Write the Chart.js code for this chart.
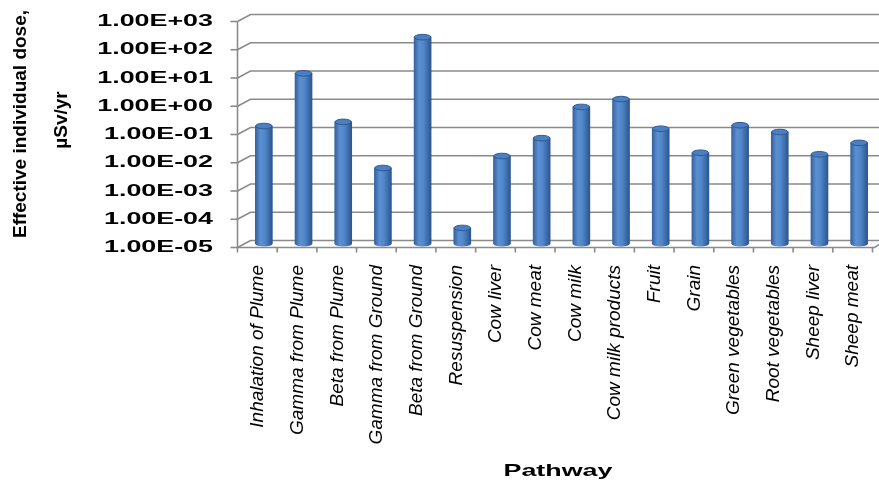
<!DOCTYPE html>
<html>
<head>
<meta charset="utf-8">
<script src="https://cdn.jsdelivr.net/npm/chart.js@4/dist/chart.umd.min.js"></script>
<style>
  html, body { margin: 0; padding: 0; background: #fff; }
  canvas { display: block; }
</style>
</head>
<body>
<canvas id="doseChart" width="879" height="483"></canvas>
<script>
// pathways and doses (µSv/yr)
const pathways = [
  'Inhalation of Plume', 'Gamma from Plume', 'Beta from Plume', 'Gamma from Ground',
  'Beta from Ground', 'Resuspension', 'Cow liver', 'Cow meat', 'Cow milk',
  'Cow milk products', 'Fruit', 'Grain', 'Green vegetables', 'Root vegetables',
  'Sheep liver', 'Sheep meat'
];
const doses = [
  0.15, 11, 0.21, 0.0049, 210, 0.000037, 0.013, 0.056, 0.71,
  1.35, 0.12, 0.017, 0.16, 0.092, 0.015, 0.038
];
const yTickValues = [1e-5, 1e-4, 1e-3, 1e-2, 1e-1, 1e0, 1e1, 1e2, 1e3];
const yTickLabels = ['1.00E-05', '1.00E-04', '1.00E-03', '1.00E-02', '1.00E-01',
                     '1.00E+00', '1.00E+01', '1.00E+02', '1.00E+03'];
const yTitle = ['Effective individual dose,', 'µSv/yr'];
const xTitle = 'Pathway';

// 3d depth offset: front plane is (-DX, +DY) from the chart area, back wall (+DX, -DY)
const DX = 6.5, DY = 3.5;
const GRID = '#8a8a8a';
const BAR_W = 17;
const FONT = '"Liberation Sans", Arial, sans-serif';

const barGradient = (ctx) => {
  const chart = ctx.chart;
  const xs = chart.scales && chart.scales.x;
  if (!xs || ctx.dataIndex === undefined) return '#4a7ebf';
  const x = xs.getPixelForValue(ctx.dataIndex);
  if (!isFinite(x)) return '#4a7ebf';
  const g = chart.ctx.createLinearGradient(x - BAR_W / 2, 0, x + BAR_W / 2, 0);
  g.addColorStop(0, '#35629e');
  g.addColorStop(0.3, '#5b8fd1');
  g.addColorStop(0.55, '#5188cb');
  g.addColorStop(1, '#2c568e');
  return g;
};

const frame3d = {
  id: 'frame3d',
  beforeDatasetsDraw(chart) {
    const { ctx, chartArea: a, scales: { y } } = chart;
    ctx.save();
    ctx.strokeStyle = GRID;
    ctx.lineWidth = 1.6;
    yTickValues.forEach(v => {
      const py = y.getPixelForValue(v);
      ctx.beginPath();
      ctx.moveTo(a.left - DX, py + DY);
      ctx.lineTo(a.left + DX, py - DY);
      ctx.lineTo(chart.width, py - DY);
      ctx.stroke();
    });
    ctx.restore();
  },
  afterDatasetsDraw(chart) {
    const { ctx, chartArea: a, scales: { y } } = chart;
    const meta = chart.getDatasetMeta(0);

    // cylinder caps
    meta.data.forEach((bar, i) => {
      const bx = bar.x, top = bar.y, base = bar.base;
      ctx.save();
      ctx.fillStyle = barGradient({ chart, dataIndex: i });
      ctx.beginPath();
      ctx.ellipse(bx, base, BAR_W / 2, 2.5, 0, 0, Math.PI);
      ctx.fill();
      ctx.beginPath();
      ctx.ellipse(bx, top, BAR_W / 2 - 0.3, 2.8, 0, 0, Math.PI * 2);
      ctx.fillStyle = '#4b7fc0';
      ctx.fill();
      ctx.lineWidth = 1;
      ctx.strokeStyle = '#2d5a93';
      ctx.stroke();
      ctx.restore();
    });

    // front axes
    ctx.save();
    ctx.strokeStyle = GRID;
    ctx.lineWidth = 1.6;
    const fx = a.left - DX;
    const top = y.getPixelForValue(1e3) + DY;
    const bottom = y.getPixelForValue(1e-5) + DY;
    ctx.beginPath();
    ctx.moveTo(fx, top);
    ctx.lineTo(fx, bottom);
    ctx.lineTo(a.right - DX + 2, bottom);
    ctx.lineTo(a.right + DX, bottom - 2 * DY);
    ctx.stroke();
    yTickValues.forEach(v => {
      const py = y.getPixelForValue(v) + DY;
      ctx.beginPath();
      ctx.moveTo(fx - 7, py);
      ctx.lineTo(fx, py);
      ctx.stroke();
    });
    const slot = (a.right - a.left) / pathways.length;
    for (let i = 0; i <= pathways.length; i++) {
      const px = fx + i * slot;
      ctx.beginPath();
      ctx.moveTo(px, bottom);
      ctx.lineTo(px, bottom + 5);
      ctx.stroke();
    }
    ctx.restore();
  },
  afterDraw(chart) {
    const { ctx, scales: { y } } = chart;
    ctx.save();
    ctx.fillStyle = '#000';
    ctx.font = 'bold 17px ' + FONT;
    ctx.textAlign = 'right';
    ctx.textBaseline = 'middle';
    // the source figure is stretched sideways, so are its flat labels
    yTickValues.forEach((v, i) => {
      ctx.save();
      ctx.translate(213, y.getPixelForValue(v) + DY);
      ctx.scale(1.58, 1);
      ctx.fillText(yTickLabels[i], 0, 0);
      ctx.restore();
    });
    ctx.save();
    ctx.textAlign = 'center';
    ctx.translate(558, 471);
    ctx.scale(1.58, 1);
    ctx.fillText(xTitle, 0, 0);
    ctx.restore();

    // rotated y title, two lines
    ctx.font = 'bold 19px ' + FONT;
    ctx.textAlign = 'center';
    [[21, 124], [62, 120]].forEach(([tx, ty], i) => {
      ctx.save();
      ctx.translate(tx, ty);
      ctx.rotate(-Math.PI / 2);
      ctx.fillText(yTitle[i], 0, 0);
      ctx.restore();
    });
    ctx.restore();
  }
};

new Chart(document.getElementById('doseChart'), {
  type: 'bar',
  data: {
    labels: pathways,
    datasets: [{
      data: doses,
      backgroundColor: barGradient,
      borderWidth: 0,
      barThickness: BAR_W
    }]
  },
  options: {
    responsive: false,
    animation: false,
    layout: { padding: { top: 18, right: 0, left: 0, bottom: 0 } },
    plugins: {
      legend: { display: false },
      tooltip: { enabled: false }
    },
    scales: {
      x: {
        grid: { display: false, drawTicks: false },
        border: { display: false },
        ticks: {
          autoSkip: false,
          minRotation: 90,
          maxRotation: 90,
          padding: 21,
          labelOffset: -6,
          color: '#000',
          font: { family: FONT, size: 19, style: 'italic' }
        },
        afterFit: (s) => {
          s.height = 239;
          s.paddingLeft = 0;
          s.paddingRight = 0;
        }
      },
      y: {
        type: 'logarithmic',
        min: 1e-5,
        max: 1e3,
        grid: { display: false },
        border: { display: false },
        ticks: { display: false },
        afterFit: (s) => {
          s.width = 244;
          s.paddingTop = 0;
          s.paddingBottom = 0;
        }
      }
    }
  },
  plugins: [frame3d]
});
</script>
</body>
</html>
